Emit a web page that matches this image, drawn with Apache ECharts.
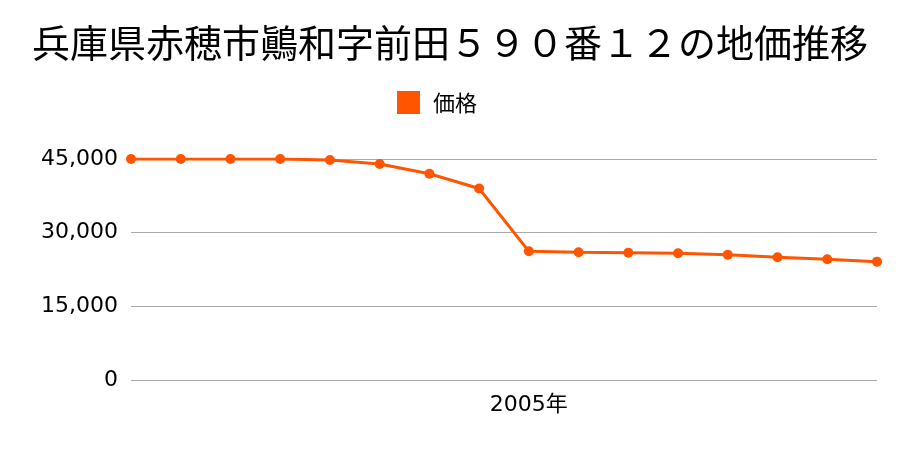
<!DOCTYPE html>
<html><head><meta charset="utf-8">
<script src="https://cdn.jsdelivr.net/npm/echarts@6/dist/echarts.min.js"></script>
<style>html,body{margin:0;padding:0;background:#fff}#c{width:900px;height:450px}</style>
</head><body><div id="c"></div>
<script>
const years = ['1997','1998','1999','2000','2001','2002','2003','2004','2005','2006','2007','2008','2009','2010','2011','2012'];
const prices = [45000,45000,45000,45000,44800,44000,42000,39000,26200,26000,25900,25800,25500,25000,24600,24100];
const shownLabels = ['2005'];
const yTicks = [0,15000,30000,45000];

const chart = echarts.init(document.getElementById('c'));
const font = '"Noto Sans CJK JP", "Noto Sans", sans-serif';
const numFont = '"DejaVu Sans", "Noto Sans CJK JP", sans-serif';
chart.setOption({
  animation:false,
  title:{text:'兵庫県赤穂市鷆和字前田５９０番１２の地価推移',left:'center',top:19,
    textStyle:{fontFamily:font,fontSize:38,fontWeight:'normal',color:'#000'}},
  legend:{data:['価格'],top:86,left:392,itemWidth:23,itemHeight:23,
    icon:'rect',textStyle:{fontFamily:font,fontSize:22,color:'#000',padding:[0,0,0,8]}},
  grid:{left:131,right:23,top:159,bottom:70},
  xAxis:{type:'category',data:years,boundaryGap:false,
    axisLine:{show:false},axisTick:{show:false},
    axisLabel:{interval:0,margin:14,fontFamily:numFont,fontSize:22,color:'#000',
      formatter:v=>shownLabels.includes(v)?v+'年':''}},
  yAxis:{type:'value',min:yTicks[0],max:yTicks[yTicks.length-1],interval:15000,
    axisLine:{show:false},axisTick:{show:false},
    splitLine:{lineStyle:{color:'#aaaaaa',width:1}},
    axisLabel:{margin:13,fontFamily:numFont,fontSize:22,color:'#000',padding:[4,0,0,0],
      formatter:v=>v.toLocaleString('en-US')}},
  series:[{name:'価格',type:'line',data:prices,symbol:'circle',symbolSize:10,
    itemStyle:{color:'#ff5500'},lineStyle:{color:'#ff5500',width:3}}]
});
</script></body></html>
